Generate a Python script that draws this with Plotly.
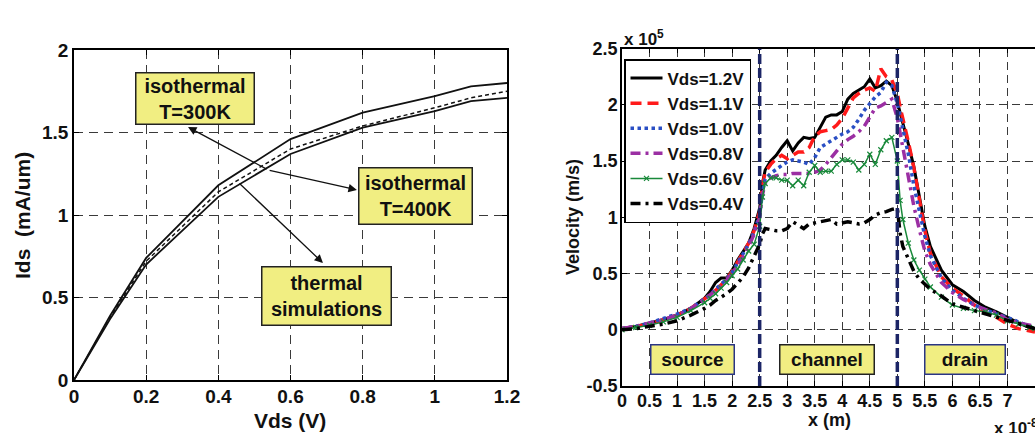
import plotly.graph_objects as go

# ---------------- Left chart data ----------------
vds = [0, 0.1, 0.2, 0.4, 0.6, 0.8, 1.0, 1.1, 1.2]
ids_iso300 = [0, 0.39, 0.74, 1.18, 1.46, 1.62, 1.72, 1.78, 1.80]
ids_thermal = [0, 0.38, 0.72, 1.14, 1.40, 1.54, 1.65, 1.71, 1.75]
ids_iso400 = [0, 0.37, 0.70, 1.11, 1.37, 1.53, 1.63, 1.69, 1.71]
left_xticks = [0, 0.2, 0.4, 0.6, 0.8, 1.0, 1.2]
left_xticklabels = ["0", "0.2", "0.4", "0.6", "0.8", "1", "1.2"]
left_yticks = [0, 0.5, 1, 1.5, 2]
left_yticklabels = ["0", "0.5", "1", "1.5", "2"]

# ---------------- Right chart data (x in 1e-8 m, v in 1e5 m/s) ----------------
x_pos = [0, 0.25, 0.5, 0.75, 1.0, 1.25, 1.5, 1.6, 1.7, 1.8, 1.9, 2.0, 2.1, 2.2, 2.3, 2.4, 2.5, 2.55,
         2.6, 2.7, 2.8, 2.9, 3.0, 3.1, 3.2, 3.3, 3.4, 3.5, 3.6, 3.7, 3.8, 3.9, 4.0, 4.1, 4.2, 4.3,
         4.4, 4.5, 4.6, 4.7, 4.8, 4.9, 5.0, 5.05, 5.1, 5.2, 5.3, 5.4, 5.5, 5.6, 5.8, 6.0, 6.2, 6.4,
         6.6, 6.8, 7.0, 7.2, 7.4, 7.5]
v_12 = [0.01, 0.03, 0.06, 0.09, 0.13, 0.19, 0.28, 0.34, 0.42, 0.46, 0.46, 0.53, 0.62, 0.69, 0.77, 0.90, 1.08, 1.30,
        1.42, 1.50, 1.55, 1.62, 1.68, 1.59, 1.66, 1.71, 1.70, 1.71, 1.80, 1.89, 1.91, 1.91, 1.94, 2.05, 2.10, 2.13,
        2.16, 2.23, 2.15, 2.17, 2.21, 2.17, 2.03, 1.93, 1.84, 1.65, 1.45, 1.18, 0.92, 0.74, 0.53, 0.40, 0.34, 0.26,
        0.20, 0.16, 0.11, 0.06, 0.02, 0.00]
v_11 = [0.01, 0.03, 0.05, 0.09, 0.13, 0.19, 0.27, 0.31, 0.35, 0.40, 0.45, 0.52, 0.60, 0.68, 0.77, 0.88, 1.05, 1.28,
        1.40, 1.47, 1.52, 1.55, 1.52, 1.55, 1.58, 1.58, 1.62, 1.72, 1.76, 1.77, 1.78, 1.82, 1.88, 1.97, 2.06, 2.10,
        2.13, 2.15, 2.12, 2.32, 2.25, 2.22, 2.10, 1.98, 1.88, 1.67, 1.44, 1.16, 0.88, 0.68, 0.47, 0.37, 0.30, 0.22,
        0.15, 0.11, 0.05, 0.01, -0.01, -0.02]
v_10 = [0.01, 0.03, 0.06, 0.10, 0.14, 0.19, 0.27, 0.31, 0.36, 0.40, 0.45, 0.51, 0.59, 0.67, 0.76, 0.87, 1.02, 1.22,
        1.34, 1.39, 1.43, 1.46, 1.49, 1.51, 1.50, 1.49, 1.47, 1.53, 1.62, 1.65, 1.68, 1.71, 1.74, 1.76, 1.80, 1.87,
        1.95, 2.01, 2.07, 2.11, 2.20, 2.17, 2.01, 1.90, 1.79, 1.56, 1.28, 1.04, 0.83, 0.66, 0.46, 0.35, 0.28, 0.22,
        0.18, 0.14, 0.11, 0.07, 0.03, 0.01]
v_08 = [0.01, 0.03, 0.06, 0.09, 0.13, 0.19, 0.27, 0.31, 0.35, 0.39, 0.44, 0.50, 0.57, 0.65, 0.74, 0.85, 1.00, 1.20,
        1.30, 1.35, 1.37, 1.38, 1.38, 1.39, 1.39, 1.39, 1.39, 1.40, 1.42, 1.47, 1.53, 1.59, 1.65, 1.69, 1.72, 1.76,
        1.81, 1.89, 1.97, 1.99, 2.02, 2.05, 1.88, 1.75, 1.60, 1.33, 1.10, 0.89, 0.70, 0.58, 0.42, 0.33, 0.27, 0.22,
        0.18, 0.15, 0.09, 0.06, 0.04, 0.03]
v_06 = [0.00, 0.02, 0.04, 0.07, 0.11, 0.17, 0.24, 0.28, 0.32, 0.37, 0.42, 0.48, 0.54, 0.62, 0.70, 0.76, 0.92, 1.18,
        1.30, 1.35, 1.35, 1.33, 1.33, 1.28, 1.33, 1.28, 1.40, 1.46, 1.40, 1.41, 1.41, 1.47, 1.51, 1.51, 1.49, 1.42,
        1.47, 1.56, 1.47, 1.60, 1.68, 1.71, 1.50, 1.15, 0.98, 0.77, 0.62, 0.53, 0.45, 0.38, 0.29, 0.22, 0.19, 0.17,
        0.16, 0.13, 0.08, 0.05, 0.02, 0.01]
v_04 = [0.00, 0.01, 0.03, 0.05, 0.08, 0.13, 0.19, 0.22, 0.26, 0.29, 0.32, 0.36, 0.41, 0.47, 0.55, 0.65, 0.76, 0.85,
        0.90, 0.89, 0.88, 0.88, 0.90, 0.96, 0.93, 0.90, 0.94, 0.95, 0.96, 0.97, 0.98, 0.94, 0.95, 0.96, 0.95, 0.94,
        0.95, 0.98, 1.02, 1.04, 1.05, 1.07, 1.08, 0.86, 0.74, 0.62, 0.52, 0.45, 0.40, 0.36, 0.30, 0.23, 0.20, 0.17,
        0.14, 0.11, 0.08, 0.05, 0.02, 0.01]
series_names = ["Vds=1.2V", "Vds=1.1V", "Vds=1.0V", "Vds=0.8V", "Vds=0.6V", "Vds=0.4V"]
region_bounds = [2.5, 5.0]
region_labels = ["source", "channel", "drain"]
region_centers = [1.28, 3.73, 6.22]
right_xticks = [0, 0.5, 1, 1.5, 2, 2.5, 3, 3.5, 4, 4.5, 5, 5.5, 6, 6.5, 7]
right_xticklabels = ["0", "0.5", "1", "1.5", "2", "2.5", "3", "3.5", "4", "4.5", "5", "5.5", "6", "6.5", "7"]
right_yticks = [-0.5, 0, 0.5, 1, 1.5, 2, 2.5]
right_yticklabels = ["-0.5", "0", "0.5", "1", "1.5", "2", "2.5"]

W, H = 1035, 433
FONT = "Liberation Sans, Arial, sans-serif"
YELLOW = "#f1ee82"


def px_x(p):
    return p / W


def px_y(p):
    return 1 - p / H


fig = go.Figure()

# Left chart traces
fig.add_trace(go.Scatter(x=vds, y=ids_iso300, mode="lines", line=dict(color="#111", width=1.8),
                         showlegend=False, xaxis="x", yaxis="y"))
fig.add_trace(go.Scatter(x=vds, y=ids_thermal, mode="lines", line=dict(color="#111", width=1.5, dash="4px,3px"),
                         showlegend=False, xaxis="x", yaxis="y"))
fig.add_trace(go.Scatter(x=vds, y=ids_iso400, mode="lines", line=dict(color="#111", width=1.8),
                         showlegend=False, xaxis="x", yaxis="y"))

# Right chart traces
styles = [
    dict(color="#000000", width=3, dash="solid"),
    dict(color="#ff1a1a", width=3.5, dash="11px,6px"),
    dict(color="#2a4fc4", width=3.5, dash="dot"),
    dict(color="#9b2fa3", width=3.5, dash="10px,5px,3px,5px"),
    dict(color="#19893a", width=1.5, dash="solid"),
    dict(color="#000000", width=3.5, dash="10px,5px,3px,5px"),
]
vals = [v_12, v_11, v_10, v_08, v_06, v_04]
for name, v, st in zip(series_names, vals, styles):
    mode = "lines+markers" if name == "Vds=0.6V" else "lines"
    fig.add_trace(go.Scatter(
        x=x_pos, y=v, mode=mode, name=name, line=st,
        marker=dict(symbol="x-thin", size=5, line=dict(width=1.2, color=st["color"]), color=st["color"]),
        xaxis="x2", yaxis="y2"))


def axis_common(size):
    return dict(showgrid=True, gridcolor="#3a3a3a", gridwidth=1, zeroline=False, automargin=False,
                showline=True, linecolor="#000", linewidth=1.5, ticks="inside", ticklen=5,
                tickcolor="#000", tickfont=dict(size=size, color="#111", family=FONT, weight="bold"))


fig.update_layout(
    width=W, height=H,
    margin=dict(l=0, r=0, t=0, b=0, autoexpand=False),
    paper_bgcolor="white", plot_bgcolor="white",
    font=dict(family=FONT, weight="bold", color="#111"),
    xaxis=dict(domain=[px_x(74), px_x(507)], range=[0, 1.2], tickvals=left_xticks, ticktext=left_xticklabels,
               griddash="9px,6px", mirror="ticks", anchor="y", ticklabelstandoff=-2, **axis_common(19)),
    yaxis=dict(domain=[px_y(380), px_y(50)], range=[0, 2], tickvals=left_yticks, ticktext=left_yticklabels,
               griddash="9px,6px", mirror="ticks", anchor="x", ticklabelstandoff=0, **axis_common(19)),
    xaxis2=dict(domain=[px_x(622), 1.0], range=[0, 7.5], tickvals=right_xticks, ticktext=right_xticklabels,
                griddash="8px,5px", mirror="ticks", anchor="y2", ticklabelstandoff=-2, **axis_common(18)),
    yaxis2=dict(domain=[px_y(386), px_y(48.5)], range=[-0.5, 2.5], tickvals=right_yticks,
                ticktext=right_yticklabels, griddash="8px,5px", mirror=False, anchor="x2",
                ticklabelstandoff=-1, **axis_common(18)),
    legend=dict(x=px_x(624), y=px_y(59), xanchor="left", yanchor="top", bgcolor="white",
                bordercolor="#000", borderwidth=1.5, font=dict(size=17, family=FONT, weight="bold", color="#111"),
                tracegroupgap=0, itemwidth=32),
)

# Region boundary lines
for b in region_bounds:
    fig.add_shape(type="line", xref="x2", yref="y2", x0=b, x1=b, y0=-0.5, y1=2.5,
                  line=dict(color="#1c2566", width=3.5, dash="10px,4px"), layer="above")

# Region labels
region_borders = ["#2a3585", "#222222", "#2a3585"]
region_widths = [82, 93, 79]
for lab, cx, bc, w in zip(region_labels, region_centers, region_borders, region_widths):
    fig.add_annotation(x=cx, y=-0.26, xref="x2", yref="y2", text=lab, showarrow=False,
                       font=dict(size=19, family=FONT, weight="bold", color="#111"),
                       bgcolor=YELLOW, bordercolor=bc, borderwidth=1.5, borderpad=0, width=w, height=28)

# Left chart boxes
boxes = [
    ("isothermal<br>T=300K", 0.335, 1.706, 117, 50),
    ("isothermal<br>T=400K", 0.946, 1.115, 112, 55),
    ("thermal<br>simulations", 0.700, 0.509, 128, 57),
]
for txt, bx, by, bw, bh in boxes:
    fig.add_annotation(x=bx, y=by, xref="x", yref="y", text=txt, showarrow=False,
                       font=dict(size=20, family=FONT, weight="bold", color="#111"),
                       bgcolor=YELLOW, bordercolor="#222", borderwidth=1.5, borderpad=0, width=bw, height=bh)

# Arrows (head at x,y ; tail at ax,ay)
arrows = [
    (0.316, 1.533, 0.538, 1.273),
    (0.784, 1.152, 0.538, 1.273),
    (0.690, 0.709, 0.4545, 1.20),
]
for hx, hy, tx, ty in arrows:
    fig.add_annotation(x=hx, y=hy, ax=tx, ay=ty, xref="x", yref="y", axref="x", ayref="y", text="",
                       showarrow=True, arrowhead=2, arrowsize=1.3, arrowwidth=1.3, arrowcolor="#111")

# Axis titles and exponent labels
titles = [
    ("Vds (V)", 290, 420, 0, 21, "center"),
    ("Ids  (mA/um)", 22, 216, -90, 21, "center"),
    ("x (m)", 829, 420, 0, 18, "center"),
    ("Velocity (m/s)", 573, 217, -90, 18, "center"),
    ("x 10<sup>5</sup>", 622, 38, 0, 17, "left"),
    ("x 10<sup>-8</sup>", 992, 427, 0, 17, "left"),
]
for txt, tx, ty, ang, sz, xa in titles:
    fig.add_annotation(x=px_x(tx), y=px_y(ty), xref="paper", yref="paper", text=txt, showarrow=False,
                       textangle=ang, xanchor=xa, yanchor="middle",
                       font=dict(size=sz, family=FONT, weight="bold", color="#111"))

fig.write_html("out.html", config={"displayModeBar": False},
               post_script="document.body.style.margin='0px';document.body.style.overflow='hidden';")
